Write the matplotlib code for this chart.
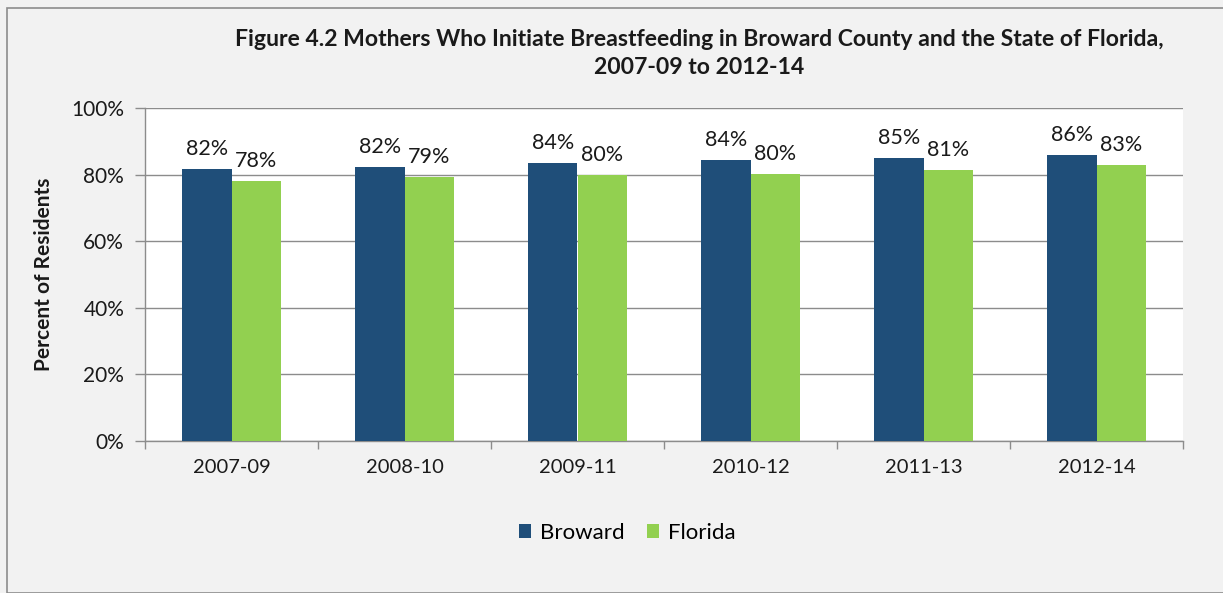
import matplotlib
matplotlib.use("Agg")
import matplotlib.pyplot as plt
import numpy as np
from matplotlib.patches import Rectangle

categories = ["2007-09", "2008-10", "2009-11", "2010-12", "2011-13", "2012-14"]
broward = [81.7, 82.3, 83.4, 84.4, 85.0, 86.0]
florida = [78.1, 79.2, 79.8, 80.2, 81.3, 82.8]
broward_labels = ["82%", "82%", "84%", "84%", "85%", "86%"]
florida_labels = ["78%", "79%", "80%", "80%", "81%", "83%"]
series_names = ["Broward", "Florida"]
yticks = [0, 20, 40, 60, 80, 100]

plt.rcParams['font.family'] = ['Lato', 'DejaVu Sans']

W, H = 1223, 593
fig = plt.figure(figsize=(W/100, H/100), dpi=100)
fig.patch.set_facecolor('#f2f2f2')
fig.patches.append(Rectangle((7/W, 0), 1.2, 1 - 8/H, transform=fig.transFigure,
                             fill=False, edgecolor='#8c8c8c', linewidth=1.2))

ax = fig.add_axes([145/W, 1 - 441/H, (1183-145)/W, (441-108)/H])
ax.set_facecolor('white')

c_b = '#1f4e79'
c_f = '#92d050'
x = np.arange(len(categories))
bw = 0.285
ax.bar(x - bw/2, broward, bw, color=c_b, label=series_names[0], zorder=3)
ax.bar(x + bw/2, florida, bw, color=c_f, label=series_names[1], zorder=3)

for i in range(len(categories)):
    ax.text(x[i] - bw/2, broward[i] + 3.0, broward_labels[i], ha='center', va='bottom',
            fontsize=15.5, color='#1a1a1a')
    ax.text(x[i] + bw/2, florida[i] + 3.0, florida_labels[i], ha='center', va='bottom',
            fontsize=15.5, color='#1a1a1a')

ax.set_xlim(-0.5, len(categories) - 0.5)
ax.set_ylim(0, 100)
ax.set_yticks(yticks)
ax.set_yticklabels([f"{v}%" for v in yticks], fontsize=15, color='#1a1a1a')
ax.yaxis.grid(True, color='#8c8c8c', linewidth=1, zorder=0)
ax.set_axisbelow(True)

ax.set_xticks(x)
ax.set_xticklabels(categories, fontsize=14.5, color='#1a1a1a')
ax.tick_params(axis='x', length=0, pad=13)
ax.set_xticks(np.arange(-0.5, len(categories)), minor=True)
ax.tick_params(axis='x', which='minor', length=6, color='#8c8c8c', width=1)
ax.tick_params(axis='y', length=7, color='#8c8c8c', width=1, pad=8)

for s in ['top', 'right']:
    ax.spines[s].set_visible(False)
for s in ['left', 'bottom']:
    ax.spines[s].set_color('#8c8c8c')
    ax.spines[s].set_linewidth(1)

ax.set_ylabel("Percent of Residents", fontsize=15, fontweight='bold', color='#1a1a1a', labelpad=12)

fig.text(699/W, 1 - 40/H, "Figure 4.2 Mothers Who Initiate Breastfeeding in Broward County and the State of Florida,",
         ha='center', va='center', fontsize=16.6, fontweight='bold', color='#1a1a1a')
fig.text(699/W, 1 - 68/H, "2007-09 to 2012-14",
         ha='center', va='center', fontsize=16.6, fontweight='bold', color='#1a1a1a')

fig.legend(loc='center', bbox_to_anchor=(627/W, 1 - 533/H), ncol=2, frameon=False,
           fontsize=16, handlelength=0.55, handleheight=0.55, handletextpad=0.4, columnspacing=1.0)

fig.savefig("out.png", dpi=100, facecolor=fig.get_facecolor())
